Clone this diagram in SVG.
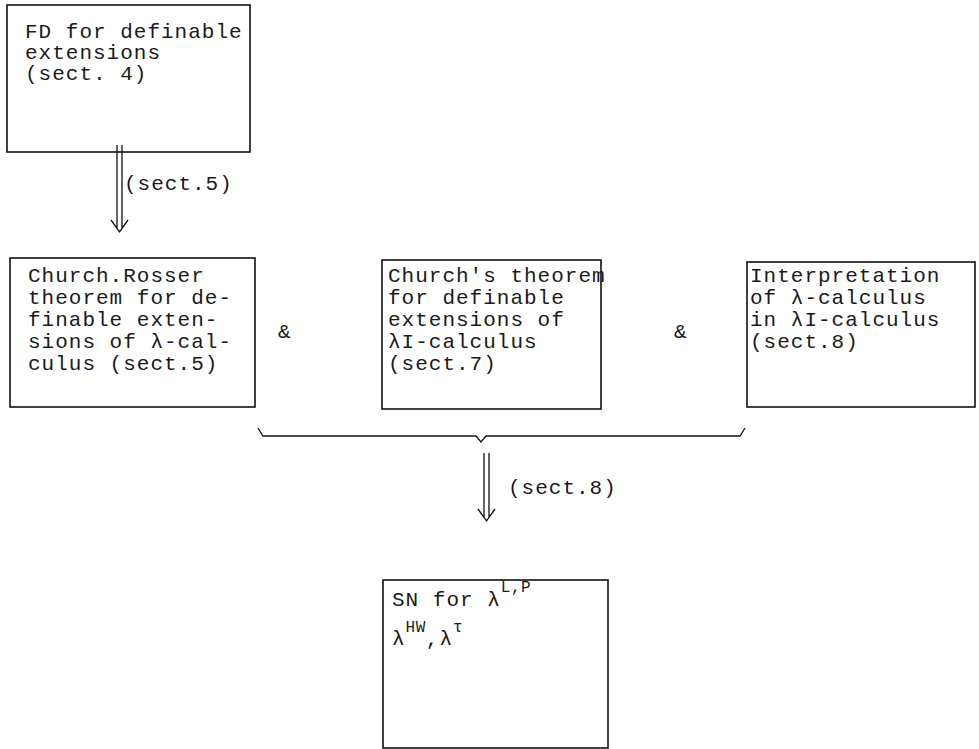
<svg xmlns="http://www.w3.org/2000/svg" width="979" height="749" viewBox="0 0 979 749">
<style>
.box{fill:none;stroke:#111;stroke-width:1.6}
.t{font-family:"Liberation Mono","DejaVu Sans Mono",monospace;font-size:21px;letter-spacing:1px;fill:#1a1a1a}
.sup{font-size:16px;letter-spacing:0.5px}
.ln{fill:none;stroke:#111;stroke-width:1.3}
</style>
<rect width="979" height="749" fill="#fff"/>
<g id="n1">
<rect class="box" x="7" y="5" width="243" height="147"/>
<text class="t" x="25" y="38">FD for definable</text>
<text class="t" x="25" y="59">extensions</text>
<text class="t" x="25" y="80">(sect. 4)</text>
</g>
<g id="n2">
<rect class="box" x="10" y="258" width="245" height="149"/>
<text class="t" x="28" y="282">Church.Rosser</text>
<text class="t" x="28" y="304">theorem for de-</text>
<text class="t" x="28" y="326">finable exten-</text>
<text class="t" x="28" y="348">sions of λ-cal-</text>
<text class="t" x="28" y="370">culus (sect.5)</text>
</g>
<g id="n3">
<rect class="box" x="382" y="260" width="219" height="149"/>
<text class="t" x="388" y="282">Church's theorem</text>
<text class="t" x="388" y="304">for definable</text>
<text class="t" x="388" y="326">extensions of</text>
<text class="t" x="388" y="348">λI-calculus</text>
<text class="t" x="388" y="370">(sect.7)</text>
</g>
<g id="n4">
<rect class="box" x="747" y="262" width="228" height="145"/>
<text class="t" x="750" y="282">Interpretation</text>
<text class="t" x="750" y="304">of λ-calculus</text>
<text class="t" x="750" y="326">in λI-calculus</text>
<text class="t" x="750" y="348">(sect.8)</text>
</g>
<g id="n5">
<rect class="box" x="383" y="580" width="225" height="168"/>
<text class="t" x="392" y="606">SN for λ<tspan class="sup" dy="-14">L,P</tspan></text>
<text class="t" x="392" y="645">λ<tspan class="sup" dy="-13">HW</tspan><tspan dy="13">,λ</tspan><tspan class="sup" dy="-13">τ</tspan></text>
</g>
<g id="connectors">
<path class="ln" d="M117,145 V229 M122,145 V229 M111,220 L119.5,232 L128,220"/>
<text class="t" x="124" y="190">(sect.5)</text>
<text class="t" x="278" y="338">&amp;</text>
<text class="t" x="674" y="338">&amp;</text>
<path class="ln" d="M258,428 L263,436 L476,436 L481,442 L486,436 L740,436 L745,428"/>
<path class="ln" d="M484,453 V518 M489,453 V518 M478,509 L486.5,521 L495,509"/>
<text class="t" x="508" y="494">(sect.8)</text>
</g>
</svg>
